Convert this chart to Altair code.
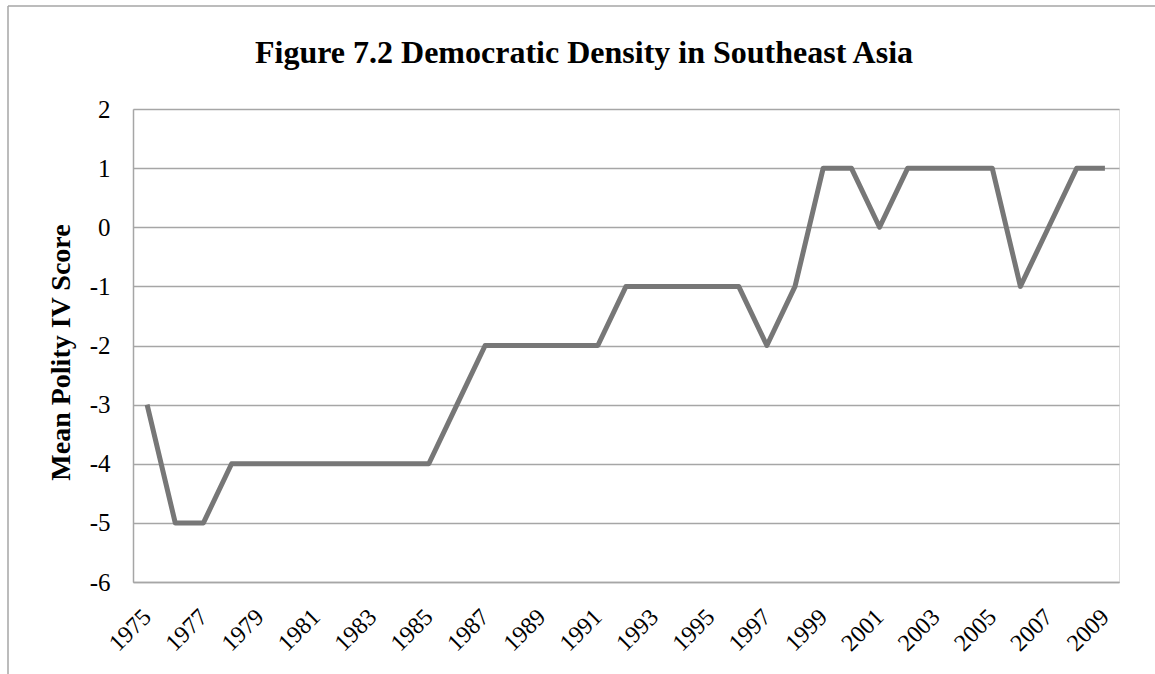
import altair as alt
import pandas as pd

# Mean Polity IV score by year, Southeast Asia
years = ["1975", "1976", "1977", "1978", "1979", "1980", "1981", "1982", "1983",
         "1984", "1985", "1986", "1987", "1988", "1989", "1990", "1991", "1992",
         "1993", "1994", "1995", "1996", "1997", "1998", "1999", "2000", "2001",
         "2002", "2003", "2004", "2005", "2006", "2007", "2008", "2009"]
scores = [-3, -5, -5, -4, -4, -4, -4, -4, -4,
          -4, -4, -3, -2, -2, -2, -2, -2, -1,
          -1, -1, -1, -1, -2, -1, 1, 1, 0,
          1, 1, 1, 1, -1, 0, 1, 1]
tick_years = years[::2]
y_ticks = [-6, -5, -4, -3, -2, -1, 0, 1, 2]

df = pd.DataFrame({"year": years, "score": scores})

FONT = "Liberation Serif"
GRID = "#a6a6a6"
W, H = 986, 473

line = alt.Chart(df).mark_line(color="#777777", strokeWidth=5, strokeJoin="round").encode(
    x=alt.X("year:O", sort=years,
            scale=alt.Scale(type="point", padding=0.5),
            axis=alt.Axis(values=tick_years, title=None, labelAngle=-45,
                          labelAlign="right", labelBaseline="middle",
                          labelPadding=31, ticks=False, domainColor=GRID,
                          domainWidth=1.5, labelFont=FONT, labelFontSize=24,
                          labelColor="#000000", grid=False)),
    y=alt.Y("score:Q", scale=alt.Scale(domain=[-6, 2], nice=False, zero=False),
            axis=alt.Axis(values=y_ticks, title="Mean Polity IV Score",
                          labelExpr="'' + datum.value",
                          titleFont=FONT, titleFontSize=28, titleFontWeight="bold",
                          titleColor="#000000", titleAngle=-90,
                          titleX=-58, titleY=243, titleAlign="center",
                          titleBaseline="bottom",
                          ticks=False, labelPadding=23, labelFont=FONT,
                          labelFontSize=25, labelColor="#000000",
                          domainColor=GRID, domainWidth=1.5,
                          gridColor=GRID, gridWidth=1.5, gridOpacity=1)),
)

# outer chart frame (top and left edges)
frame = alt.Data(values=[{}])
top_edge = alt.Chart(frame).mark_rule(color=GRID, strokeWidth=1.5).encode(
    x=alt.value(-125), x2=alt.value(1030), y=alt.value(-103))
left_edge = alt.Chart(frame).mark_rule(color=GRID, strokeWidth=1.5).encode(
    x=alt.value(-125), y=alt.value(-103), y2=alt.value(575))

chart = alt.layer(top_edge, left_edge, line).properties(
    width=W, height=H,
    autosize=alt.AutoSizeParams(type="none"),
    padding={"left": 133, "top": 109, "right": 36, "bottom": 92},
    title=alt.TitleParams("Figure 7.2 Democratic Density in Southeast Asia",
                          font=FONT, fontSize=32, fontWeight="bold",
                          color="#000000", anchor="middle", frame="group",
                          dx=-42, offset=-65),
).configure_view(stroke=None).configure(background="white")

chart.save("out.html", embed_options={"renderer": "svg", "actions": False})
